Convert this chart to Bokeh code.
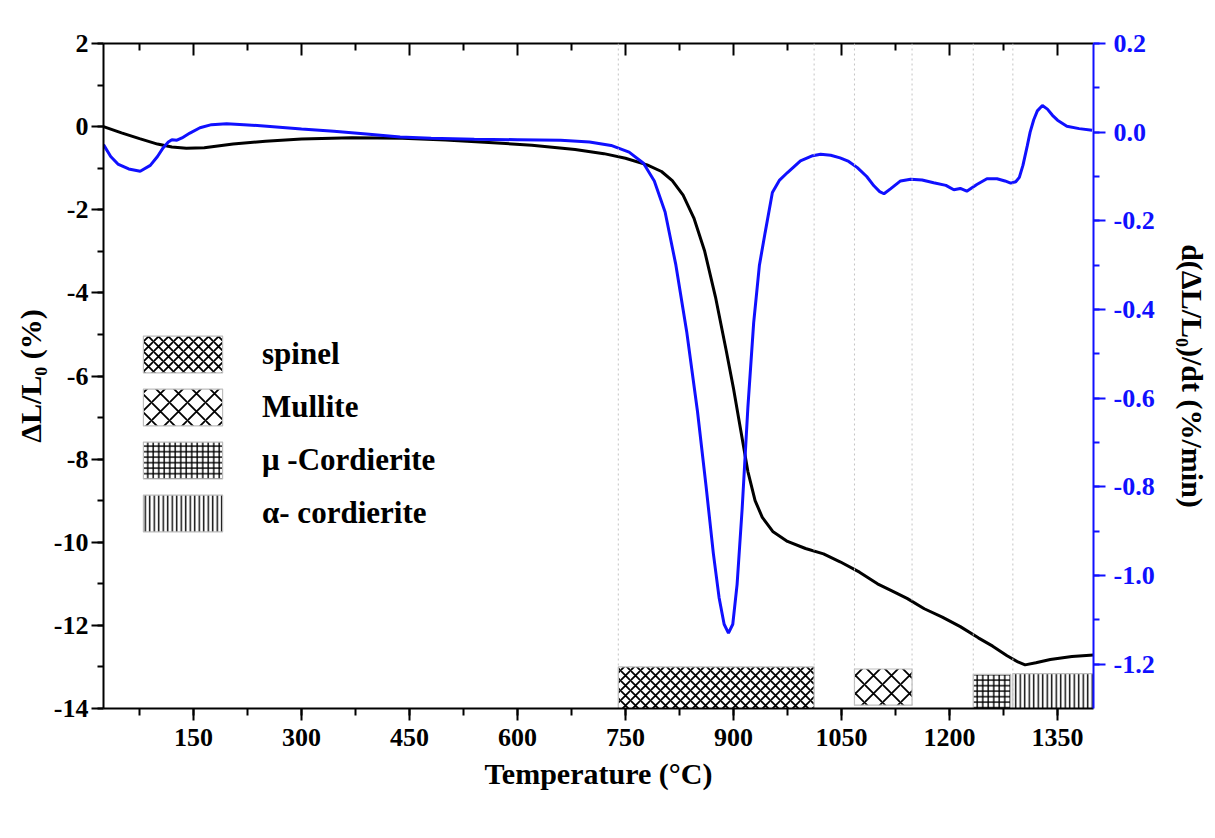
from bokeh.plotting import figure
from bokeh.models import (Range1d, LinearAxis, SingleIntervalTicker, FixedTicker,
                          PrintfTickFormatter, Legend, LegendItem, Span)
from bokeh.embed import file_html
from bokeh.resources import INLINE

# ---------------- data ----------------
temp_black = [25, 50, 75, 100, 120, 140, 165, 205, 250, 300, 370, 440, 500, 560, 620, 680,
              720, 750, 780, 800, 815, 830, 845, 860, 875, 890, 900, 910, 920, 930, 940,
              955, 975, 1000, 1025, 1048, 1075, 1100, 1120, 1141, 1165, 1190, 1215, 1240,
              1260, 1280, 1295, 1305, 1320, 1340, 1370, 1400]
dl_l0 = [0.0, -0.15, -0.29, -0.42, -0.49, -0.52, -0.51, -0.42, -0.35, -0.30, -0.27, -0.28,
         -0.32, -0.38, -0.45, -0.55, -0.65, -0.76, -0.92, -1.08, -1.3, -1.65, -2.2, -3.0,
         -4.1, -5.4, -6.3, -7.3, -8.3, -9.0, -9.4, -9.75, -9.98, -10.15, -10.28, -10.47,
         -10.72, -11.0, -11.17, -11.35, -11.6, -11.8, -12.03, -12.3, -12.5, -12.73, -12.88,
         -12.95, -12.9, -12.82, -12.75, -12.71]

temp_blue = [25, 35, 45, 60, 76, 90, 100, 108, 115, 120, 127, 134, 145, 159, 175, 196, 220,
             252, 300, 345, 390, 437, 480, 540, 600, 660, 700, 730, 755, 775, 790, 805, 820,
             835, 850, 862, 872, 880, 887, 893, 899, 905, 912, 920, 928, 936, 944, 954, 964,
             975, 993, 1010, 1021, 1035, 1048, 1060, 1072, 1085, 1095, 1103, 1109, 1118,
             1132, 1146, 1162, 1178, 1195, 1206, 1215, 1224, 1238, 1252, 1266, 1277, 1285,
             1292, 1297, 1302, 1308, 1312, 1317, 1322, 1329, 1336, 1343, 1350, 1363, 1380,
             1398]
rate = [-0.028, -0.055, -0.072, -0.083, -0.088, -0.075, -0.055, -0.035, -0.022, -0.017,
        -0.018, -0.013, -0.002, 0.010, 0.017, 0.019, 0.017, 0.0135, 0.007, 0.002, -0.004,
        -0.011, -0.014, -0.016, -0.017, -0.018, -0.022, -0.03, -0.045, -0.07, -0.11, -0.18,
        -0.30, -0.45, -0.63, -0.80, -0.95, -1.05, -1.11, -1.13, -1.11, -1.02, -0.85, -0.62,
        -0.43, -0.30, -0.226, -0.136, -0.108, -0.091, -0.065, -0.053, -0.050, -0.052,
        -0.058, -0.066, -0.080, -0.100, -0.121, -0.134, -0.139, -0.128, -0.110, -0.106,
        -0.108, -0.114, -0.120, -0.130, -0.127, -0.133, -0.118, -0.105, -0.105, -0.110,
        -0.115, -0.112, -0.102, -0.075, -0.031, 0.0, 0.028, 0.048, 0.060, 0.052, 0.038,
        0.027, 0.0135, 0.008, 0.0045]

phases = ["spinel", "Mullite", "\u03bc -Cordierite", "\u03b1- cordierite"]
phase_start = [740, 1068, 1233, 1288]
phase_end = [1012, 1148, 1285, 1400]
phase_top = [-13.0, -13.05, -13.18, -13.16]
phase_bottom = [-14.0, -13.92, -14.0, -14.0]
phase_hatch = ["diagonal_cross", "diagonal_cross", "cross", "vertical_line"]
phase_hatch_scale = [10, 18, 5.5, 4.5]
phase_hatch_weight = [1.8, 1.8, 1.4, 1.4]

x_tick_interval = 150
left_tick_interval = 2
right_tick_interval = 0.2

FONT = "Liberation Serif"
BLUE = "#1010ff"

# ---------------- figure ----------------
p = figure(width=1215, height=838, output_backend="svg", toolbar_location=None,
           x_range=Range1d(25, 1400), y_range=Range1d(-14, 2),
           min_border_left=103, min_border_right=122, min_border_top=43,
           min_border_bottom=130)
p.outline_line_color = None
p.grid.visible = False
p.background_fill_color = "white"
p.border_fill_color = "white"

p.extra_y_ranges = {"rate": Range1d(-1.3, 0.2)}


def style_axis(ax, color="black"):
    ax.axis_line_color = color
    ax.axis_line_width = 2
    ax.major_tick_line_color = color
    ax.minor_tick_line_color = color
    ax.major_tick_line_width = 2
    ax.minor_tick_line_width = 2
    ax.major_label_text_font = FONT
    ax.major_label_text_font_style = "bold"
    ax.major_label_text_font_size = "26px"
    ax.major_label_text_color = color
    ax.axis_label_text_font = FONT
    ax.axis_label_text_font_style = "bold"
    ax.axis_label_text_font_size = "30px"
    ax.axis_label_text_color = "black"


xax = p.xaxis[0]
xax.ticker = SingleIntervalTicker(interval=x_tick_interval, num_minor_ticks=2)
style_axis(xax)
xax.major_tick_out = 12
xax.major_tick_in = 0
xax.minor_tick_out = 7
xax.minor_tick_in = 0
xax.major_label_standoff = 8
xax.axis_label = "Temperature (\u00b0C)"
xax.axis_label_standoff = 8

yax = p.yaxis[0]
yax.ticker = SingleIntervalTicker(interval=left_tick_interval, num_minor_ticks=2)
yax.formatter = PrintfTickFormatter(format="%d")
style_axis(yax)
yax.major_tick_out = 12
yax.major_tick_in = 0
yax.minor_tick_out = 6
yax.minor_tick_in = 0
yax.major_label_standoff = 3
yax.axis_label = "\u0394L/L\u2080 (%)"
yax.axis_label_standoff = 4

# top mirror axis: inward ticks only, no labels (ticks given as minor ticks)
top_major = list(range(x_tick_interval, 1401, x_tick_interval))
top_minor = [t - x_tick_interval // 2 for t in top_major]
top1 = LinearAxis(ticker=FixedTicker(ticks=[], minor_ticks=top_major))
top1.axis_line_color = "black"
top1.axis_line_width = 2
top1.minor_tick_line_color = "black"
top1.minor_tick_line_width = 2
top1.minor_tick_in = 12
top1.minor_tick_out = 0
top1.major_tick_in = 0
top1.major_tick_out = 0
top1.major_label_standoff = 0
p.add_layout(top1, "above")

top2 = LinearAxis(ticker=FixedTicker(ticks=[], minor_ticks=top_minor))
top2.axis_line_color = None
top2.minor_tick_line_color = "black"
top2.minor_tick_line_width = 2
top2.minor_tick_in = 7
top2.minor_tick_out = 0
top2.major_tick_in = 0
top2.major_tick_out = 0
top2.major_label_standoff = 0
p.add_layout(top2, "above")

rax = LinearAxis(y_range_name="rate",
                 ticker=SingleIntervalTicker(interval=right_tick_interval, num_minor_ticks=2),
                 formatter=PrintfTickFormatter(format="%.1f"))
style_axis(rax, BLUE)
rax.major_tick_out = 12
rax.major_tick_in = 0
rax.minor_tick_out = 6
rax.minor_tick_in = 0
rax.major_label_standoff = 8
rax.axis_label = "d(\u0394L/L\u2080)/dt (%/min)"
rax.axis_label_standoff = 18
p.add_layout(rax, "right")

# vertical dotted lines at phase boundaries
edges = phase_start + phase_end[:2]
for e in edges:
    p.add_layout(Span(location=e, dimension="height", line_color="#c4c4c4",
                      line_dash="2 3", line_width=1))

# phase bars
items = []
for i in range(len(phases)):
    r = p.quad(left=[phase_start[i]], right=[phase_end[i]], top=[phase_top[i]],
               bottom=[phase_bottom[i]], fill_color="white", line_color="#bdbdbd",
               line_width=1.2, hatch_pattern=phase_hatch[i], hatch_color="black",
               hatch_scale=phase_hatch_scale[i], hatch_weight=phase_hatch_weight[i])
    items.append(LegendItem(label=phases[i], renderers=[r]))

# curves
p.line(temp_black, dl_l0, line_color="black", line_width=3)
p.line(temp_blue, rate, line_color=BLUE, line_width=3, y_range_name="rate")

legend = Legend(items=items, location=(30, 172), glyph_width=99, glyph_height=46,
                spacing=7, label_standoff=30, padding=0, margin=0,
                border_line_color=None, background_fill_alpha=0,
                label_text_font=FONT, label_text_font_style="bold",
                label_text_font_size="31px", label_text_color="black")
p.add_layout(legend)

open("out.html", "w").write(file_html(p, INLINE))
